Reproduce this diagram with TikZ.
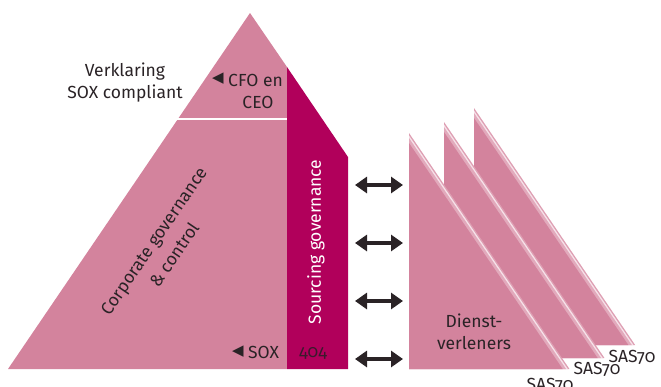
\documentclass[tikz,border=0pt]{standalone}
\usepackage{fontspec}
\setmainfont{Fira Sans}[Numbers=OldStyle]
\newfontfamily\djv{DejaVu Sans}
\usetikzlibrary{arrows.meta}
\definecolor{pk}{HTML}{D3839D}
\definecolor{mag}{HTML}{B1005B}
\definecolor{ink}{HTML}{2A2326}
\definecolor{dk}{HTML}{3A1A2C}
\definecolor{stA}{HTML}{DE9FB3}
\definecolor{stB}{HTML}{F6E2E9}
\definecolor{stC}{HTML}{E2AABC}
\newcommand\sptri[3]{%
  \fill[stA] (#1,#2) -- (#1,#3) -- ({#1+(#3-#2)*0.68},#3) -- cycle;
  \fill[stB] (#1,#2+2.5) -- (#1,#3) -- ({#1+(#3-#2)*0.68-1.7},#3) -- cycle;
  \fill[stC] (#1,#2+5) -- (#1,#3) -- ({#1+(#3-#2)*0.68-3.4},#3) -- cycle;
  \fill[pk] (#1,#2+10) -- (#1,#3) -- ({#1+(#3-#2)*0.68-6.8},#3) -- cycle;
}
\begin{document}
\begin{tikzpicture}[x=1pt,y=-1pt,
  lbl/.style={font=\fontsize{17.5}{22}\selectfont, text=ink, align=center, inner sep=0pt},
  tri/.style={font=\djv\fontsize{15}{15}\selectfont, text=ink, inner sep=0pt},
  dbl/.style={{Triangle[width=16pt,length=12pt]}-{Triangle[width=16pt,length=12pt]}, line width=3.5pt, draw=ink},
]
\useasboundingbox (0,0) rectangle (661,386);
% pyramid
\fill[pk] (250,13) -- (8,369) -- (287,369) -- (287,67) -- cycle;
\fill[mag] (287,67) -- (348,157) -- (348,369) -- (287,369) -- cycle;
\draw[white, line width=2.5pt] (177,119) -- (287,119);
% service provider triangles
\sptri{474}{108}{345}
\sptri{444}{122}{358}
\sptri{409}{133}{369}
% texts
\node[lbl] (verk) at (125,83) {Verklaring\\SOX compliant};
\node[tri] (t1) at (218,79) {◀};
\node[lbl, anchor=west] (cfo) at (228,80) {CFO en};
\node[lbl] (ceo) at (258,102) {CEO};
\node[lbl, font=\fontsize{17.5}{25}\selectfont, rotate=55.8] (corp) at (164,248) {Corporate governance\\\& control};
\node[lbl, text=white, rotate=90] (sourc) at (316,242) {Sourcing governance};
\node[tri] (t2) at (238,352) {◀};
\node[lbl, anchor=west] (sox) at (248,352) {SOX};
\node[lbl, text=dk] (n404) at (313,353) {404};
\node[lbl] (dienst) at (474,332) {Dienst-\\verleners};
\node[lbl] (sas3) at (632,357) {SAS70};
\node[lbl] (sas2) at (597,369) {SAS70};
\node[lbl] (sas1) at (550,385) {SAS70};
% arrows
\foreach \i/\y in {1/185,2/243,3/301,4/359}{
  \coordinate (l\i) at (355,\y);
  \coordinate (r\i) at (403,\y);
  \draw[dbl] (l\i) -- (r\i);
}
\end{tikzpicture}
\end{document}
